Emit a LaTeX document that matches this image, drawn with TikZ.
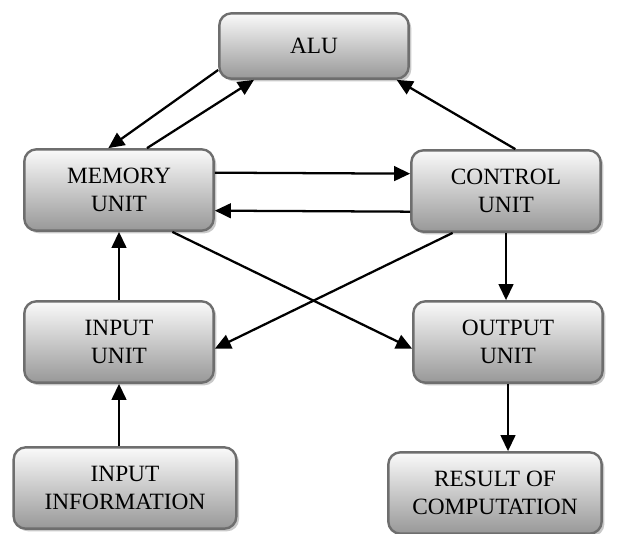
\documentclass[tikz,border=0pt]{standalone}
\usepackage{fontspec}
\setmainfont{Liberation Serif}
\usepackage{xcolor}
\usepackage{tikz}
\usetikzlibrary{arrows.meta,shadows}
\definecolor{edgex}{HTML}{6E6E6E}
\definecolor{topx}{HTML}{FAFAFA}
\definecolor{botx}{HTML}{989898}
\tikzset{
  box/.style={draw=edgex,line width=1.8pt,rounded corners=9pt,top color=topx,bottom color=botx,
    drop shadow={shadow xshift=2pt,shadow yshift=-2pt,fill=black!30,opacity=0.7},
    align=center,inner sep=2pt,minimum width=142pt,minimum height=61pt,
    font=\fontsize{17.5}{21}\selectfont},
  ar/.style={-{Triangle[length=12pt,width=11pt]},line width=1.7pt,black}
}
\begin{document}
\begin{tikzpicture}[x=0.75pt,y=0.75pt]
\useasboundingbox (0,0) rectangle (620,533);
\node[box,minimum height=49pt] (alu) at (314,487) {ALU};
\node[box] (mem) at (119,343) {MEMORY\\UNIT};
\node[box] (ctrl) at (506,342) {CONTROL\\UNIT};
\node[box] (inp) at (119,191) {INPUT\\UNIT};
\node[box] (out) at (508,191) {OUTPUT\\UNIT};
\node[box,minimum width=167pt] (info) at (125,45) {INPUT\\INFORMATION};
\node[box,minimum width=160pt] (res) at (495,40) {RESULT OF\\COMPUTATION};
% memory <-> alu
\draw[ar] ([yshift=-18pt]alu.west) -- ([xshift=-8pt]mem.north);
\draw[ar] ([xshift=21pt]mem.north) -- ([xshift=-45pt]alu.south);
\draw[ar] ([xshift=7pt]ctrl.north) -- ([xshift=62pt]alu.south);
% memory <-> control
\draw[ar] ([yshift=13pt]mem.east) -- ([yshift=13pt]ctrl.west);
\draw[ar] ([yshift=-15.5pt]ctrl.west) -- ([yshift=-15.5pt]mem.east);
% crossing
\draw[ar] ([xshift=40pt]mem.south) -- ([yshift=-5pt]out.west);
\draw[ar] ([xshift=-40pt]ctrl.south) -- ([yshift=-5pt]inp.east);
% verticals
\draw[ar] (inp.north) -- (mem.south);
\draw[ar] (ctrl.south) -- (ctrl.south |- out.north);
\draw[ar] (inp.south |- info.north) -- (inp.south);
\draw[ar] (out.south) -- (out.south |- res.north);
\end{tikzpicture}
\end{document}
